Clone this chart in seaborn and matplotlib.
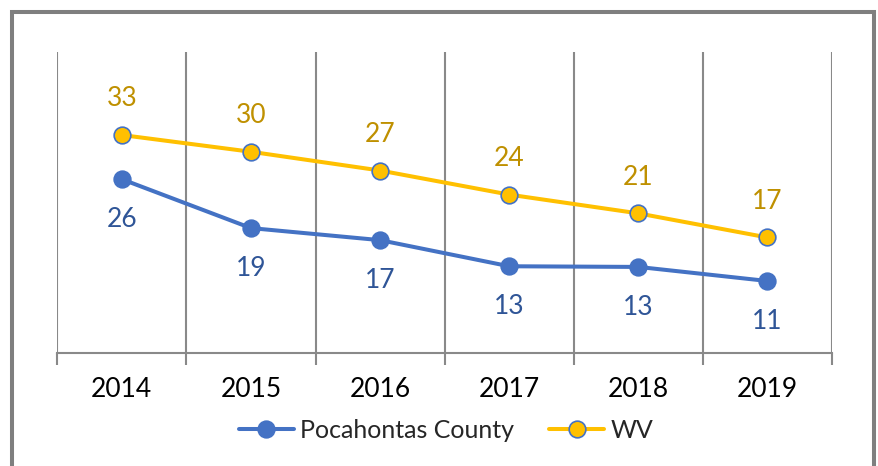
import matplotlib
matplotlib.use('Agg')
import matplotlib.pyplot as plt
from matplotlib.patches import Rectangle
from matplotlib.ticker import FixedLocator
import seaborn as sns
import pandas as pd

years = ['2014', '2015', '2016', '2017', '2018', '2019']
series = ['Pocahontas County', 'WV']
pocahontas = [26.0, 18.7, 16.9, 13.0, 12.9, 10.8]
wv = [32.6, 30.1, 27.3, 23.7, 20.9, 17.3]
colors = ['#4472C4', '#FFC000']
label_colors = ['#2F5597', '#BF9000']

df = pd.DataFrame({
    'Year': years * 2,
    'Rate': pocahontas + wv,
    'Series': [series[0]] * len(years) + [series[1]] * len(years),
})

sns.set_theme(style='white')
plt.rcParams['font.family'] = ['Lato', 'DejaVu Sans']

fig = plt.figure(figsize=(8.79, 4.66), dpi=100)
ax = fig.add_axes([57.3 / 879, 1 - 353.3 / 466, (832 - 57.3) / 879, (353.3 - 52) / 466])

sns.lineplot(data=df, x='Year', y='Rate', hue='Series', palette=colors,
             marker='o', markersize=12, markeredgecolor='#4472C4',
             markeredgewidth=1.2, linewidth=2.9, legend=False, ax=ax)

# data labels: county below, state above
for vals, col, off in [(pocahontas, label_colors[0], -29), (wv, label_colors[1], 26)]:
    for i, v in enumerate(vals):
        ax.annotate('%d' % round(v), (i, v), xytext=(0, off), textcoords='offset points',
                    ha='center', va='center', fontsize=19, color=col)

ax.set_xlim(-0.5, 5.5)
ax.set_ylim(0, 45)
ax.set_yticks([])
ax.set_xlabel('')
ax.set_ylabel('')
ax.xaxis.set_minor_locator(FixedLocator([i - 0.5 for i in range(7)]))
ax.grid(True, which='minor', axis='x', color='#898989', linewidth=1.5)
ax.tick_params(axis='x', which='major', length=0, pad=17, labelsize=19, labelcolor='#000000')
ax.tick_params(axis='x', which='minor', bottom=True, length=8.5, width=1.5, color='#898989')
for lbl in ax.get_xticklabels():
    lbl.set_fontstretch('expanded')
for s in ['left', 'top', 'right']:
    ax.spines[s].set_visible(False)
ax.spines['bottom'].set_color('#898989')
ax.spines['bottom'].set_linewidth(1.5)

fig.legend(handles=ax.lines[:2], labels=series, loc='center',
           bbox_to_anchor=(446 / 879, 1 - 430 / 466), ncol=2, frameon=False,
           fontsize=18, handlelength=2.2, handletextpad=0.25, columnspacing=1.4)

# outer chart border
fig.patches.append(Rectangle((12 / 879, -0.1), (874 - 12) / 879, 1.1 - 12 / 466,
                             transform=fig.transFigure, fill=False,
                             edgecolor='#7F7F7F', linewidth=2.9))

fig.savefig('out.png', dpi=100)
